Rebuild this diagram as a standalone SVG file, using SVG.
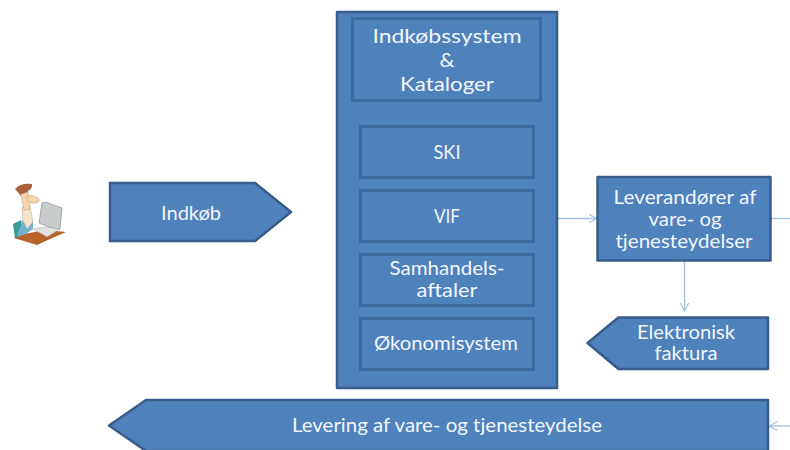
<svg xmlns="http://www.w3.org/2000/svg" width="790" height="450" viewBox="0 0 790 450">
<defs>
<style>
.b{fill:#4f81bd;stroke:#385d8a;stroke-width:2.5;stroke-linejoin:round}
.i{fill:#4f81bd;stroke:#3d6a9f;stroke-width:3}
text{font-family:"Lato","Noto Sans","Liberation Sans",sans-serif;font-size:19px;fill:#f2f6fb;text-anchor:middle}
.c{fill:none;stroke:#a3bfe0;stroke-width:1.3}
</style>
<marker id="a" markerWidth="10" markerHeight="10" refX="8.500" refY="5" orient="auto" markerUnits="userSpaceOnUse"><path d="M0 0.500L8.500 5L0 9.500" fill="none" stroke="#a3bfe0" stroke-width="1.1"/></marker>
<filter id="s" x="-10%" y="-10%" width="120%" height="120%"><feGaussianBlur stdDeviation="0.45"/></filter>
</defs>
<rect width="790" height="450" fill="#fff"/>
<g id="connectors">
<path class="c" d="M558 218.500H597" marker-end="url(#a)"/>
<path class="c" d="M771 218.500H790"/>
<path class="c" d="M684.500 261V311" marker-end="url(#a)"/>
<path class="c" d="M790 426H769" marker-end="url(#a)"/>
</g>
<g id="person" filter="url(#s)">
<path d="M14 238L24 234L45 230L66 232L50 239L37 245Z" fill="#b9622a"/>
<path d="M13 224L21 220L24 233L15 239Z" fill="#3d9a94"/>
<path d="M17 236L24 217L33 221L33 229L24 235Z" fill="#6fb4cf"/>
<path d="M22 207L30 206L33 222L27 229L23 221Z" fill="#f5e3cc" stroke="#a88e70" stroke-width=".4"/>
<path d="M15 189Q20 183 32 184Q33 188 28 191L26 198L22 197Z" fill="#a9623a"/>
<path d="M21 194L28 192L30 209L24 210Z" fill="#f6d6ae" stroke="#b98c5c" stroke-width=".4"/>
<path d="M27 196Q33 194 38 198Q41 202 36 203Q31 204 27 201Z" fill="#f6d6ae" stroke="#b98c5c" stroke-width=".4"/>
<path d="M39 223L42 203L45 202L62 208L60 229L52 228Z" fill="#c9cccd" stroke="#8d9192" stroke-width=".7"/>
<path d="M33 229L45 227L60 229L47 237Z" fill="#e2e3e1" stroke="#999" stroke-width=".4"/>
</g>
<g id="indkob"><path class="b" d="M110 183H255L291 212L255 241H110Z"/><text x="191" y="220" textLength="60" lengthAdjust="spacingAndGlyphs">Indkøb</text></g>
<g id="system"><rect class="b" x="337" y="12" width="220" height="376"/></g>
<g id="katalog"><rect class="i" x="352.500" y="18.500" width="188" height="82"/><text x="447" y="42.500" textLength="149" lengthAdjust="spacingAndGlyphs">Indkøbssystem</text><text x="447" y="67" textLength="15" lengthAdjust="spacingAndGlyphs">&amp;</text><text x="447" y="91" textLength="94" lengthAdjust="spacingAndGlyphs">Kataloger</text></g>
<g id="ski"><rect class="i" x="360.500" y="126.500" width="173" height="51"/><text x="447" y="159" textLength="27" lengthAdjust="spacingAndGlyphs">SKI</text></g>
<g id="vif"><rect class="i" x="360.500" y="190.500" width="173" height="51"/><text x="447" y="223" textLength="26" lengthAdjust="spacingAndGlyphs">VIF</text></g>
<g id="samhandel"><rect class="i" x="360.500" y="254.500" width="173" height="51"/><text x="447" y="274.500" textLength="115" lengthAdjust="spacingAndGlyphs">Samhandels-</text><text x="447" y="296.500" textLength="61" lengthAdjust="spacingAndGlyphs">aftaler</text></g>
<g id="okonomi"><rect class="i" x="360.500" y="318.500" width="173" height="51"/><text x="446" y="350" textLength="144" lengthAdjust="spacingAndGlyphs">Økonomisystem</text></g>
<g id="leverandorer"><rect class="b" x="597.500" y="177" width="173" height="83.500"/><text x="685" y="204" textLength="143" lengthAdjust="spacingAndGlyphs">Leverandører af</text><text x="685" y="226" textLength="73" lengthAdjust="spacingAndGlyphs">vare- og</text><text x="684" y="248" textLength="137" lengthAdjust="spacingAndGlyphs">tjenesteydelser</text></g>
<g id="faktura"><path class="b" d="M768 317.500V369H618.500L587.500 343L618.500 317.500Z"/><text x="686" y="339" textLength="98" lengthAdjust="spacingAndGlyphs">Elektronisk</text><text x="686" y="360" textLength="63" lengthAdjust="spacingAndGlyphs">faktura</text></g>
<g id="levering"><path class="b" d="M768 400V451H146L109 425.500L146 400Z"/><text x="447" y="432" textLength="310" lengthAdjust="spacingAndGlyphs">Levering af vare- og tjenesteydelse</text></g>
</svg>
